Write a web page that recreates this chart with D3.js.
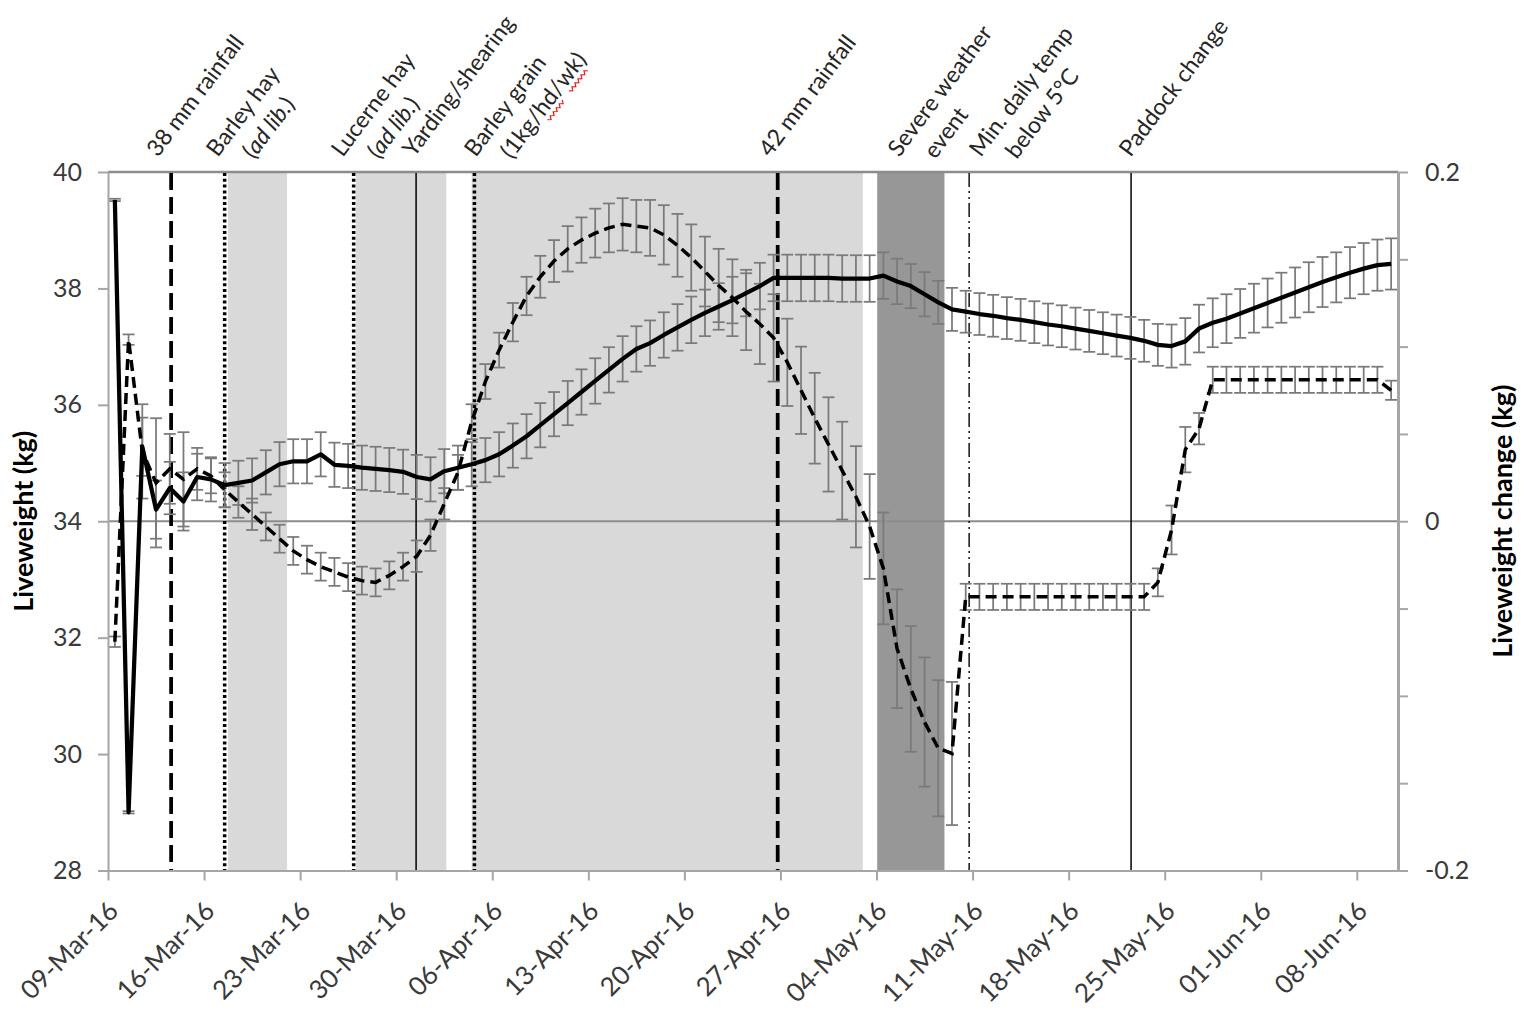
<!DOCTYPE html>
<html>
<head>
<meta charset="utf-8">
<script src="https://cdn.jsdelivr.net/npm/d3@7"></script>
<style>
  html, body { margin: 0; padding: 0; background: #fff; }
  svg { display: block; font-family: Lato, "Open Sans", sans-serif; }
</style>
</head>
<body>
<svg id="chart" width="1533" height="1010"></svg>
<script>
// ---- Data -------------------------------------------------------------
// Weekly date ticks along the x axis (first tick = first measurement day)
const xTickLabels = ["09-Mar-16", "16-Mar-16", "23-Mar-16", "30-Mar-16", "06-Apr-16",
  "13-Apr-16", "20-Apr-16", "27-Apr-16", "04-May-16", "11-May-16", "18-May-16",
  "25-May-16", "01-Jun-16", "08-Jun-16"];

// Daily mean liveweight (kg), left axis
const liveweight = [
  39.52, 29.00, 35.28, 34.20, 34.57, 34.34, 34.76, 34.72, 34.62, 34.66,
  34.70, 34.84, 34.98, 35.03, 35.03, 35.15, 34.97, 34.95, 34.92, 34.90,
  34.88, 34.85, 34.76, 34.72, 34.86, 34.92, 34.98, 35.05, 35.15, 35.30,
  35.46, 35.65, 35.84, 36.03, 36.22, 36.41, 36.60, 36.79, 36.96, 37.06,
  37.20, 37.33, 37.46, 37.58, 37.69, 37.80, 37.92, 38.04, 38.18, 38.18,
  38.18, 38.18, 38.18, 38.17, 38.17, 38.17, 38.22, 38.12, 38.04, 37.90,
  37.76, 37.64, 37.60, 37.56, 37.53, 37.49, 37.46, 37.42, 37.38, 37.35,
  37.31, 37.27, 37.23, 37.19, 37.15, 37.10, 37.03, 37.01, 37.09, 37.31,
  37.41, 37.48, 37.57, 37.66, 37.75, 37.84, 37.93, 38.02, 38.11, 38.19,
  38.27, 38.34, 38.40, 38.42];

// Standard error of liveweight (kg)
const liveweightSE = [
  0.02, 0.02, 0.50, 0.50, 0.45, 0.50, 0.40, 0.38, 0.38, 0.38,
  0.38, 0.38, 0.38, 0.38, 0.38, 0.38, 0.38, 0.38, 0.38, 0.38,
  0.38, 0.38, 0.38, 0.38, 0.38, 0.38, 0.38, 0.38, 0.38, 0.38,
  0.38, 0.38, 0.38, 0.38, 0.39, 0.39, 0.39, 0.39, 0.39, 0.39,
  0.39, 0.40, 0.40, 0.40, 0.40, 0.40, 0.40, 0.40, 0.40, 0.40,
  0.40, 0.40, 0.40, 0.40, 0.40, 0.40, 0.40, 0.39, 0.38, 0.38,
  0.37, 0.37, 0.36, 0.36, 0.36, 0.36, 0.36, 0.36, 0.36, 0.36,
  0.36, 0.36, 0.36, 0.36, 0.36, 0.36, 0.36, 0.37, 0.40, 0.41,
  0.42, 0.42, 0.42, 0.42, 0.42, 0.43, 0.43, 0.43, 0.43, 0.43,
  0.44, 0.44, 0.44, 0.44];

// Daily liveweight change (kg), right axis
const liveweightChange = [
  -0.069, 0.104, 0.040, 0.022, 0.030, 0.024, 0.030, 0.026, 0.018, 0.011,
  0.004, -0.003, -0.010, -0.017, -0.022, -0.026, -0.029, -0.032, -0.034, -0.035,
  -0.031, -0.026, -0.020, -0.008, 0.010, 0.028, 0.057, 0.080, 0.098, 0.114,
  0.129, 0.140, 0.149, 0.156, 0.161, 0.165, 0.168, 0.170, 0.169, 0.168,
  0.164, 0.158, 0.151, 0.143, 0.135, 0.128, 0.120, 0.113, 0.105, 0.091,
  0.075, 0.059, 0.044, 0.029, 0.014, -0.003, -0.027, -0.073, -0.096, -0.115,
  -0.130, -0.133, -0.0433, -0.0433, -0.0433, -0.0433, -0.0433, -0.0433, -0.0433, -0.0433,
  -0.0433, -0.0433, -0.0433, -0.0433, -0.0433, -0.0433, -0.035, -0.005, 0.041, 0.053,
  0.081, 0.081, 0.081, 0.081, 0.081, 0.081, 0.081, 0.081, 0.081, 0.081,
  0.081, 0.081, 0.081, 0.075];

// Standard error of liveweight change (kg)
const liveweightChangeSE = [
  0.003, 0.003, 0.027, 0.037, 0.020, 0.027, 0.012, 0.010, 0.010, 0.009,
  0.009, 0.008, 0.008, 0.008, 0.008, 0.008, 0.008, 0.008, 0.008, 0.008,
  0.008, 0.008, 0.009, 0.009, 0.009, 0.010, 0.010, 0.010, 0.010, 0.011,
  0.011, 0.012, 0.012, 0.013, 0.013, 0.014, 0.014, 0.015, 0.015, 0.016,
  0.017, 0.018, 0.019, 0.020, 0.021, 0.022, 0.022, 0.023, 0.025, 0.025,
  0.025, 0.026, 0.027, 0.028, 0.029, 0.030, 0.032, 0.034, 0.036, 0.037,
  0.039, 0.041, 0.0075, 0.0075, 0.0075, 0.0075, 0.0075, 0.0075, 0.0075, 0.0075,
  0.0075, 0.0075, 0.0075, 0.0075, 0.0075, 0.0075, 0.008, 0.014, 0.013, 0.009,
  0.0075, 0.0075, 0.0075, 0.0075, 0.0075, 0.0075, 0.0075, 0.0075, 0.0075, 0.0075,
  0.0075, 0.0075, 0.0075, 0.0055];

// Axis ticks
const leftTicks = [28, 30, 32, 34, 36, 38, 40];
const rightTicks = [-0.2, -0.15, -0.1, -0.05, 0, 0.05, 0.1, 0.15, 0.2];
const rightTickLabels = { "-0.2": "-0.2", "0": "0", "0.2": "0.2" };

// Management / weather periods, in days after the first measurement
const feedingPeriods = [[8.75, 13.05], [18.05, 24.65], [26.5, 55.0]];
const severeWeatherPeriods = [[56.05, 60.95]];

// Event markers (days after first measurement) and their line kind
const eventDays = [4.6, 8.5, 17.9, 22.45, 26.7, 48.8, 62.75, 74.55];
const eventKinds = ["rain", "feed", "feed", "handling", "feed", "rain", "cold", "handling"];

// Event annotations: text lines (segments; i = italic, spell = spell-check mark)
const annotationText = [
  [[{ t: "38 mm rainfall" }]],
  [[{ t: "Barley hay" }], [{ t: "(" }, { t: "ad lib.", i: true }, { t: ")" }]],
  [[{ t: "Lucerne  hay" }], [{ t: "(" }, { t: "ad lib.", i: true }, { t: ")" }]],
  [[{ t: "Yarding/shearing" }]],
  [[{ t: "Barley grain" }], [{ t: "(1kg/" }, { t: "hd", spell: true }, { t: "/" }, { t: "wk", spell: true }, { t: ")" }]],
  [[{ t: "42 mm rainfall" }]],
  [[{ t: "Severe weather" }], [{ t: "event" }]],
  [[{ t: "Min. daily temp" }], [{ t: "below 5°C" }]],
  [[{ t: "Paddock change" }]]
];
const annotationDays = [3.65, 8.0, 17.1, 22.3, 26.8, 48.25, 57.65, 63.6, 74.5];

// ---- Layout -----------------------------------------------------------
const M = { left: 108, right: 1398, top: 172, bottom: 870.5 };
const GRID_GREY = "#a6a6a6";
const TEXT_GREY = "#3a3a3a";

const svg = d3.select("#chart");

const parseTick = d3.utcParse("%d-%b-%y");
const start = parseTick(xTickLabels[0]);
const end = d3.utcDay.offset(start, liveweight.length);
const days = d3.utcDay.range(start, end);

const x = d3.scaleUtc().domain([start, end]).range([M.left, M.right]);
const dayX = d => x(new Date(start.getTime() + d * 864e5));
const pointX = (d, i) => x(d3.utcHour.offset(days[i], 12));

const yL = d3.scaleLinear().domain([28, 40]).range([M.bottom, M.top]);
const yR = d3.scaleLinear().domain([-0.2, 0.2]).range([M.bottom, M.top]);

// ---- Shaded periods ---------------------------------------------------
const shade = svg.append("g");
shade.selectAll("rect.feed").data(feedingPeriods).join("rect")
  .attr("class", "feed")
  .attr("x", d => dayX(d[0]))
  .attr("width", d => dayX(d[1]) - dayX(d[0]))
  .attr("y", M.top).attr("height", M.bottom - M.top)
  .attr("fill", "#d9d9d9");
shade.selectAll("rect.storm").data(severeWeatherPeriods).join("rect")
  .attr("class", "storm")
  .attr("x", d => dayX(d[0]))
  .attr("width", d => dayX(d[1]) - dayX(d[0]))
  .attr("y", M.top).attr("height", M.bottom - M.top)
  .attr("fill", "#979797");

// zero-change reference line (34 kg on the left scale)
svg.append("line")
  .attr("x1", M.left).attr("x2", M.right)
  .attr("y1", yR(0)).attr("y2", yR(0))
  .attr("stroke", "#8c8c8c").attr("stroke-width", 2);

// top border of the plot area
svg.append("line")
  .attr("x1", M.left).attr("x2", M.right)
  .attr("y1", M.top).attr("y2", M.top)
  .attr("stroke", "#8c8c8c").attr("stroke-width", 2.5);

// ---- Event lines ------------------------------------------------------
const eventStyle = {
  rain: { w: 3.75, dash: "17,7" },
  feed: { w: 3.5, dash: "3,2.8" },
  handling: { w: 1.5, dash: null },
  cold: { w: 1.4, dash: "14,4,2,4,2,4" }
};
svg.append("g").selectAll("line").data(eventDays).join("line")
  .attr("x1", d => dayX(d)).attr("x2", d => dayX(d))
  .attr("y1", M.top + 1).attr("y2", M.bottom)
  .attr("stroke", "#000")
  .attr("stroke-width", (d, i) => eventStyle[eventKinds[i]].w)
  .attr("stroke-dasharray", (d, i) => eventStyle[eventKinds[i]].dash);

// ---- Error bars -------------------------------------------------------
function errorBars(values, errors, y) {
  const g = svg.append("g")
    .attr("stroke", "#7a7a7a").attr("stroke-width", 1.75).attr("fill", "none");
  const cap = 6;
  values.forEach((v, i) => {
    const cx = pointX(null, i);
    const y0 = y(v - errors[i]), y1 = y(v + errors[i]);
    g.append("line").attr("x1", cx).attr("x2", cx).attr("y1", y0).attr("y2", y1);
    g.append("line").attr("x1", cx - cap).attr("x2", cx + cap).attr("y1", y0).attr("y2", y0);
    g.append("line").attr("x1", cx - cap).attr("x2", cx + cap).attr("y1", y1).attr("y2", y1);
  });
}
errorBars(liveweight, liveweightSE, yL);
errorBars(liveweightChange, liveweightChangeSE, yR);

// ---- Series lines -----------------------------------------------------
svg.append("path")
  .datum(liveweightChange)
  .attr("fill", "none").attr("stroke", "#000")
  .attr("stroke-width", 3.5).attr("stroke-dasharray", "11,6")
  .attr("d", d3.line().x(pointX).y(d => yR(d)));

svg.append("path")
  .datum(liveweight)
  .attr("fill", "none").attr("stroke", "#000")
  .attr("stroke-width", 4.25).attr("stroke-linejoin", "round")
  .attr("d", d3.line().x(pointX).y(d => yL(d)));

// ---- Axes -------------------------------------------------------------
function styleAxis(g, domainW) {
  g.attr("font-family", null).attr("font-size", null);
  g.select(".domain").attr("stroke", GRID_GREY).attr("stroke-width", domainW);
  g.selectAll(".tick line").attr("stroke", GRID_GREY).attr("stroke-width", 2);
  g.selectAll(".tick text").attr("fill", TEXT_GREY).attr("font-size", 25)
    .attr("font-family", "Lato, sans-serif");
}

const gLeft = svg.append("g")
  .attr("transform", `translate(${M.left},0)`)
  .call(d3.axisLeft(yL).tickValues(leftTicks).tickSize(10).tickSizeOuter(0)
    .tickPadding(16).tickFormat(d3.format("d")));
styleAxis(gLeft, 2);

const gRight = svg.append("g")
  .attr("transform", `translate(${M.right},0)`)
  .call(d3.axisRight(yR).tickValues(rightTicks).tickSize(10).tickSizeOuter(0)
    .tickPadding(17).tickFormat(d => rightTickLabels[String(+d.toFixed(2))] || ""));
styleAxis(gRight, 3);

const tickDates = xTickLabels.map(parseTick);
const gBottom = svg.append("g")
  .attr("transform", `translate(0,${M.bottom})`)
  .call(d3.axisBottom(x).tickValues(tickDates).tickSize(10).tickSizeOuter(0)
    .tickFormat(""));
styleAxis(gBottom, 2);

svg.append("g").selectAll("text").data(tickDates).join("text")
  .attr("transform", d => `translate(${x(d) + 12},${M.bottom + 42}) rotate(-45)`)
  .attr("text-anchor", "end")
  .attr("font-size", 26)
  .attr("fill", TEXT_GREY)
  .text((d, i) => xTickLabels[i]);

// Axis titles
svg.append("text")
  .attr("transform", `translate(33,${(M.top + M.bottom) / 2}) rotate(-90)`)
  .attr("text-anchor", "middle")
  .attr("font-size", 27).attr("font-weight", 700).attr("fill", "#000")
  .text("Liveweight (kg)");

svg.append("text")
  .attr("transform", `translate(1512,${(M.top + M.bottom) / 2}) rotate(-90)`)
  .attr("text-anchor", "middle")
  .attr("font-size", 27).attr("font-weight", 700).attr("fill", "#000")
  .text("Liveweight change (kg)");

// ---- Event annotations ------------------------------------------------
const annoG = svg.append("g")
  .attr("font-size", 23).attr("fill", "#262626");

annotationText.forEach((lines, k) => {
  const g = annoG.append("g")
    .attr("transform", `translate(${dayX(annotationDays[k])},158) rotate(-53)`);
  lines.forEach((segs, li) => {
    const tx = g.append("text")
      .attr("x", li * 20).attr("y", li * 30);
    const spans = segs.map(s => tx.append("tspan")
      .attr("font-style", s.i ? "italic" : null)
      .text(s.t));
    // wavy spell-check underline under flagged words
    let offset = li * 20;
    segs.forEach((s, si) => {
      const w = spans[si].node().getComputedTextLength();
      if (s.spell) {
        const pts = [];
        const base = li * 30 + 4;
        for (let px = 0, n = 0; px <= w; px += 2.5, n++) {
          pts.push([offset + px, base + (n % 2 ? 3 : 0)]);
        }
        g.append("path")
          .attr("d", d3.line()(pts))
          .attr("fill", "none").attr("stroke", "#e0201a").attr("stroke-width", 1.2);
      }
      offset += w;
    });
  });
});
</script>
</body>
</html>
